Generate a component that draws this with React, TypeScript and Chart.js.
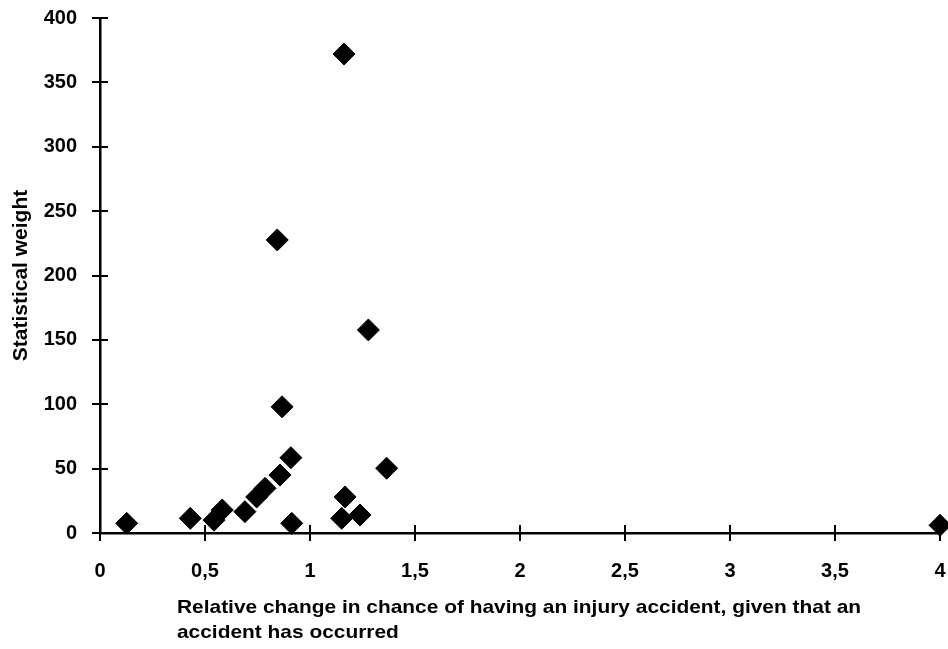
import React, { useEffect, useRef } from 'react';
import { Chart, registerables } from 'chart.js';

Chart.register(...registerables);

// Relative change in chance of an injury accident (x) vs. statistical weight (y)
const relativeChange = [
  0.127, 0.43, 0.543, 0.582, 0.69, 0.746, 0.786, 0.857, 0.909, 0.867,
  0.844, 1.162, 1.278, 0.913, 1.167, 1.151, 1.238, 1.365, 4.0,
];
const statisticalWeight = [
  7.5, 11.4, 10, 17.9, 16.6, 28, 34.7, 45, 58.5, 98,
  227.6, 372, 157.7, 7.5, 28, 11.4, 14, 50.3, 6,
];

const xTickValues = [0, 0.5, 1, 1.5, 2, 2.5, 3, 3.5, 4];
const yTickValues = [0, 50, 100, 150, 200, 250, 300, 350, 400];

const xTitleLines = [
  'Relative change in chance of having an injury accident, given that an',
  'accident has occurred',
];
const yTitle = 'Statistical weight';

const FONT_FAMILY = "'Liberation Sans', Arial, Helvetica, sans-serif";
const INK = '#000000';

const formatDecimalComma = (v: number) => String(v).replace('.', ',');

// Tick marks that cross the axis line on both sides
const crossTicks = {
  id: 'crossTicks',
  beforeDatasetsDraw(chart: any) {
    const { ctx } = chart;
    const x = chart.scales.x;
    const y = chart.scales.y;
    const half = 8;
    ctx.save();
    ctx.strokeStyle = INK;
    ctx.lineWidth = 2;
    ctx.beginPath();
    y.ticks.forEach((_t: any, i: number) => {
      const py = Math.round(y.getPixelForTick(i));
      ctx.moveTo(x.left - half, py);
      ctx.lineTo(x.left + half, py);
    });
    x.ticks.forEach((_t: any, i: number) => {
      const px = Math.round(x.getPixelForTick(i));
      ctx.moveTo(px, y.bottom - half);
      ctx.lineTo(px, y.bottom + half);
    });
    ctx.stroke();
    ctx.restore();
  },
};

// Left-aligned two-line caption under the horizontal axis (slightly wide lettering)
const xCaption = {
  id: 'xCaption',
  afterDraw(chart: any) {
    const { ctx } = chart;
    const x = chart.scales.x;
    ctx.save();
    ctx.fillStyle = INK;
    ctx.font = `bold 19px ${FONT_FAMILY}`;
    ctx.textAlign = 'left';
    ctx.textBaseline = 'alphabetic';
    ctx.translate(x.left + 77, 0);
    ctx.scale(1.1, 1);
    xTitleLines.forEach((line, i) => {
      ctx.fillText(line, 0, x.top + 80 + i * 25);
    });
    ctx.restore();
  },
};

export default function App() {
  const canvasRef = useRef<HTMLCanvasElement | null>(null);

  useEffect(() => {
    document.body.style.margin = '0';
    const canvas = canvasRef.current;
    if (!canvas) return;

    const points = relativeChange.map((v, i) => ({ x: v, y: statisticalWeight[i] }));

    const chart = new Chart(canvas, {
      type: 'scatter',
      data: {
        datasets: [
          {
            data: points,
            pointStyle: 'rectRot',
            pointRadius: 11,
            pointHoverRadius: 11,
            backgroundColor: INK,
            borderColor: INK,
            borderWidth: 1,
            clip: false,
          },
        ],
      },
      options: {
        responsive: false,
        animation: false,
        events: [],
        layout: { autoPadding: false, padding: { left: 0, top: 18, right: 8, bottom: 0 } },
        plugins: {
          legend: { display: false },
          tooltip: { enabled: false },
        },
        scales: {
          x: {
            type: 'linear',
            min: 0,
            max: 4,
            afterBuildTicks: (scale: any) => {
              scale.ticks = xTickValues.map((value) => ({ value }));
            },
            afterFit: (scale: any) => {
              scale.height = 116;
              scale.paddingLeft = 0;
              scale.paddingRight = 0;
            },
            grid: { display: false, drawTicks: true, tickLength: 24 },
            border: { display: true, color: INK, width: 2.5 },
            ticks: {
              autoSkip: false,
              maxRotation: 0,
              padding: 2,
              color: INK,
              font: { family: FONT_FAMILY, size: 20, weight: 'bold' },
              callback: (v: any) => formatDecimalComma(Number(v)),
            },
            title: { display: false },
          },
          y: {
            type: 'linear',
            min: 0,
            max: 400,
            afterBuildTicks: (scale: any) => {
              scale.ticks = yTickValues.map((value) => ({ value }));
            },
            afterFit: (scale: any) => {
              scale.width = 100;
            },
            grid: { display: false, drawTicks: true, tickLength: 19 },
            border: { display: true, color: INK, width: 2.5 },
            ticks: {
              autoSkip: false,
              padding: 4,
              color: INK,
              font: { family: FONT_FAMILY, size: 20, weight: 'bold' },
              callback: (v: any) => formatDecimalComma(Number(v)),
            },
            title: {
              display: true,
              text: yTitle,
              color: INK,
              font: { family: FONT_FAMILY, size: 21, weight: 'bold' },
              padding: { top: 9, bottom: 0 },
            },
          },
        },
      },
      plugins: [crossTicks, xCaption],
    });

    return () => chart.destroy();
  }, []);

  return (
    <div style={{ position: 'absolute', left: 0, top: 0, width: 948, height: 649, background: '#fff' }}>
      <canvas ref={canvasRef} width={948} height={649} />
    </div>
  );
}
